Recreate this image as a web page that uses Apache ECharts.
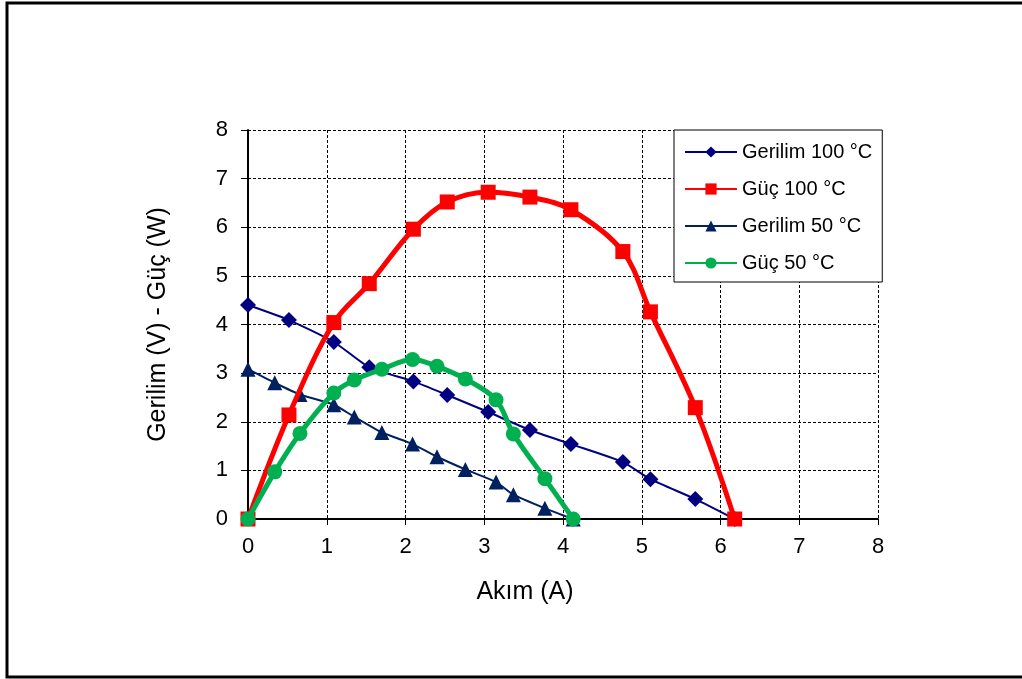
<!DOCTYPE html>
<html>
<head>
<meta charset="utf-8">
<style>
  html, body { margin: 0; padding: 0; background: #fff; }
  #chart { width: 1022px; height: 679px; }
</style>
<script src="https://cdn.jsdelivr.net/npm/echarts@6/dist/echarts.min.js"></script>
</head>
<body>
<div id="chart"></div>
<script>
// Current (A) readings and measured voltage / power at 100 °C and 50 °C
const current100 = [0, 0.52, 1.09, 1.54, 2.10, 2.53, 3.05, 3.58, 4.10, 4.76, 5.11, 5.68, 6.18];
const voltage100 = [4.40, 4.09, 3.64, 3.12, 2.83, 2.55, 2.20, 1.83, 1.54, 1.17, 0.82, 0.41, 0];
const power100   = [0, 2.14, 4.04, 4.84, 5.96, 6.52, 6.72, 6.62, 6.36, 5.50, 4.26, 2.29, 0];

const current50 = [0, 0.34, 0.66, 1.09, 1.35, 1.70, 2.09, 2.40, 2.76, 3.15, 3.37, 3.77, 4.13];
const voltage50 = [3.08, 2.80, 2.56, 2.35, 2.10, 1.78, 1.54, 1.28, 1.02, 0.76, 0.50, 0.22, 0];
const power50   = [0, 0.97, 1.76, 2.59, 2.86, 3.08, 3.28, 3.14, 2.88, 2.45, 1.75, 0.83, 0];

const seriesNames = ['Gerilim 100 °C', 'Güç 100 °C', 'Gerilim 50 °C', 'Güç 50 °C'];
const axisTicks = [0, 1, 2, 3, 4, 5, 6, 7, 8];

const pairs = (xs, ys) => xs.map((x, i) => [x, ys[i]]);

const FONT = 'Arial, "Liberation Sans", sans-serif';
const chart = echarts.init(document.getElementById('chart'), null, { renderer: 'canvas' });

chart.setOption({
  animation: false,
  backgroundColor: '#fff',
  textStyle: { fontFamily: FONT },
  graphic: [{
    type: 'rect',
    shape: { x: 7, y: 3, width: 1040, height: 674 },
    style: { fill: 'none', stroke: '#000', lineWidth: 3 },
    z: 100
  }],
  grid: { left: 248, right: 144, top: 130, bottom: 160, containLabel: false },
  legend: {
    orient: 'vertical',
    left: 674,
    top: 130,
    padding: [12, 10, 9, 10],
    itemWidth: 52,
    itemHeight: 14,
    itemGap: 17,
    backgroundColor: '#fff',
    borderColor: '#000',
    borderWidth: 1,
    borderRadius: 0,
    textStyle: { fontSize: 20, color: '#000', fontFamily: FONT },
    data: seriesNames
  },
  xAxis: {
    type: 'value',
    min: axisTicks[0], max: axisTicks[axisTicks.length - 1], interval: 1,
    name: 'Akım (A)', nameLocation: 'middle', nameGap: 61,
    nameTextStyle: { fontSize: 25, color: '#000', padding: [0, 76, 0, 0] },
    axisLine: { onZero: false, lineStyle: { color: '#000', width: 2 } },
    axisTick: { show: true, inside: false, length: 6, lineStyle: { color: '#000', width: 1 } },
    axisLabel: { fontSize: 22, color: '#000', margin: 17 },
    splitLine: { show: true, lineStyle: { color: '#000', width: 1, type: [3, 2] } }
  },
  yAxis: {
    type: 'value',
    min: axisTicks[0], max: axisTicks[axisTicks.length - 1], interval: 1,
    name: 'Gerilim (V) - Güç (W)', nameLocation: 'middle', nameGap: 77,
    nameTextStyle: { fontSize: 25, color: '#000' },
    axisLine: { show: true, lineStyle: { color: '#000', width: 2 } },
    axisTick: { show: true, inside: false, length: 7, lineStyle: { color: '#000', width: 1 } },
    axisLabel: { fontSize: 22, color: '#000', margin: 20 },
    splitLine: { show: true, lineStyle: { color: '#000', width: 1, type: [3, 2] } }
  },
  series: [
    {
      name: seriesNames[0], type: 'line', data: pairs(current100, voltage100),
      smooth: 0.2, symbol: 'diamond', symbolSize: 16,
      lineStyle: { color: '#000080', width: 2 },
      itemStyle: { color: '#000080' }, z: 3
    },
    {
      name: seriesNames[1], type: 'line', data: pairs(current100, power100),
      smooth: 0.35, symbol: 'rect', symbolSize: 15,
      lineStyle: { color: '#ff0000', width: 5 },
      itemStyle: { color: '#ff0000' }, z: 4
    },
    {
      name: seriesNames[2], type: 'line', data: pairs(current50, voltage50),
      smooth: 0.2, symbol: 'triangle', symbolSize: 15,
      lineStyle: { color: '#002060', width: 2 },
      itemStyle: { color: '#002060' }, z: 3
    },
    {
      name: seriesNames[3], type: 'line', data: pairs(current50, power50),
      smooth: 0.35, symbol: 'circle', symbolSize: 15,
      lineStyle: { color: '#00b050', width: 5 },
      itemStyle: { color: '#00b050' }, z: 5
    }
  ]
});
</script>
</body>
</html>
